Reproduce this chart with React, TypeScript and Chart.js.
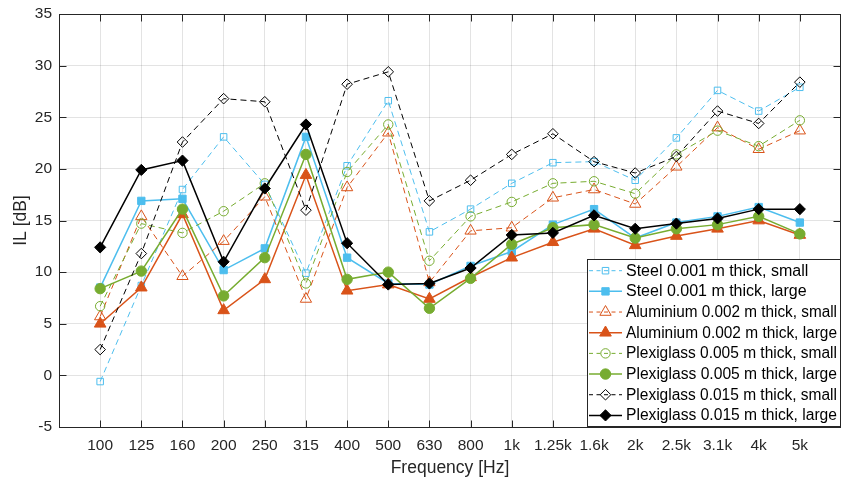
import React, { useEffect, useRef } from 'react';
import { Chart, registerables } from 'chart.js';

Chart.register(...registerables);

const categories = ['100', '125', '160', '200', '250', '315', '400', '500', '630', '800', '1k', '1.25k', '1.6k', '2k', '2.5k', '3.1k', '4k', '5k'];
const yTicks = [-5, 0, 5, 10, 15, 20, 25, 30, 35];

const steelSmall = [-0.6, 8.7, 18.0, 23.1, 18.5, 9.9, 20.3, 26.6, 13.9, 16.1, 18.6, 20.6, 20.7, 18.9, 23.0, 27.6, 25.6, 27.9];
const steelLarge = [8.5, 16.9, 17.1, 10.2, 12.3, 23.1, 11.4, 8.9, 8.8, 10.6, 12.0, 14.6, 16.1, 13.3, 14.8, 15.4, 16.3, 14.8];
const aluSmall = [5.7, 15.4, 9.6, 13.0, 17.3, 7.4, 18.2, 23.5, 9.0, 14.0, 14.3, 17.2, 18.0, 16.6, 20.2, 24.0, 21.9, 23.7];
const aluLarge = [5.0, 8.5, 15.6, 6.3, 9.3, 19.4, 8.2, 8.8, 7.4, 9.5, 11.4, 12.9, 14.2, 12.6, 13.5, 14.2, 15.0, 13.6];
const plexi5Small = [6.7, 14.7, 13.8, 15.9, 18.6, 8.9, 19.7, 24.3, 11.1, 15.4, 16.8, 18.6, 18.8, 17.6, 21.4, 23.7, 22.2, 24.7];
const plexi5Large = [8.4, 10.1, 16.1, 7.7, 11.4, 21.4, 9.3, 10.0, 6.5, 9.4, 12.7, 14.3, 14.6, 13.3, 14.2, 14.6, 15.4, 13.7];
const plexi15Small = [2.5, 11.8, 22.6, 26.8, 26.5, 16.0, 28.2, 29.4, 16.9, 18.9, 21.4, 23.4, 20.7, 19.6, 21.2, 25.6, 24.4, 28.4];
const plexi15Large = [12.4, 19.9, 20.8, 11.0, 18.1, 24.3, 12.8, 8.8, 8.9, 10.4, 13.6, 13.8, 15.5, 14.2, 14.7, 15.2, 16.1, 16.1];

const seriesLabels = [
  'Steel 0.001 m thick, small',
  'Steel 0.001 m thick, large',
  'Aluminium 0.002 m thick, small',
  'Aluminium 0.002 m thick, large',
  'Plexiglass 0.005 m thick, small',
  'Plexiglass 0.005 m thick, large',
  'Plexiglass 0.015 m thick, small',
  'Plexiglass 0.015 m thick, large',
];
const seriesValues = [steelSmall, steelLarge, aluSmall, aluLarge, plexi5Small, plexi5Large, plexi15Small, plexi15Large];

const STEEL = '#4DBEEE';
const ALU = '#D95319';
const GREEN = '#77AC30';
const BLACK = '#000000';
const AXIS = '#262626';
const FONT = "'Liberation Sans', Arial, Helvetica, sans-serif";

const styles = [
  { color: STEEL, filled: false, shape: 'rect', r: 4.6 },
  { color: STEEL, filled: true, shape: 'rect', r: 5.2 },
  { color: ALU, filled: false, shape: 'triangle', r: 6.5 },
  { color: ALU, filled: true, shape: 'triangle', r: 6.7 },
  { color: GREEN, filled: false, shape: 'circle', r: 4.7 },
  { color: GREEN, filled: true, shape: 'circle', r: 5.2 },
  { color: BLACK, filled: false, shape: 'rectRot', r: 5.3 },
  { color: BLACK, filled: true, shape: 'rectRot', r: 5.6 },
];
const DASH = [6, 4];

function drawMarker(ctx: CanvasRenderingContext2D, shape: string, x: number, y: number, r: number, filled: boolean, color: string) {
  ctx.save();
  ctx.setLineDash([]);
  ctx.lineWidth = 1;
  ctx.strokeStyle = color;
  ctx.fillStyle = color;
  ctx.beginPath();
  if (shape === 'rect') {
    const s = r / Math.SQRT2;
    ctx.rect(x - s, y - s, 2 * s, 2 * s);
  } else if (shape === 'rectRot') {
    ctx.moveTo(x, y - r);
    ctx.lineTo(x + r, y);
    ctx.lineTo(x, y + r);
    ctx.lineTo(x - r, y);
    ctx.closePath();
  } else if (shape === 'triangle') {
    let a = 0;
    ctx.moveTo(x + Math.sin(a) * r, y - Math.cos(a) * r);
    a += (2 * Math.PI) / 3;
    ctx.lineTo(x + Math.sin(a) * r, y - Math.cos(a) * r);
    a += (2 * Math.PI) / 3;
    ctx.lineTo(x + Math.sin(a) * r, y - Math.cos(a) * r);
    ctx.closePath();
  } else {
    ctx.arc(x, y, r, 0, Math.PI * 2);
  }
  if (filled) ctx.fill();
  ctx.stroke();
  ctx.restore();
}

const framePlugin = {
  id: 'matlabFrame',
  afterDatasetsDraw(chart: any) {
    const ctx: CanvasRenderingContext2D = chart.ctx;
    const { left, right, top, bottom } = chart.chartArea;
    const xs = chart.scales.x;
    const ys = chart.scales.y;
    const L = Math.round(left) + 0.5;
    const R = Math.round(right) - 0.5;
    const T = Math.round(top) + 0.5;
    const B = Math.round(bottom) + 0.5;
    const tl = 7;
    ctx.save();
    ctx.strokeStyle = AXIS;
    ctx.lineWidth = 1;
    ctx.setLineDash([]);
    ctx.beginPath();
    categories.forEach((_, i) => {
      const px = Math.round(xs.getPixelForValue(i)) + 0.5;
      ctx.moveTo(px, T);
      ctx.lineTo(px, T + tl);
      ctx.moveTo(px, B);
      ctx.lineTo(px, B - tl);
    });
    yTicks.forEach((v) => {
      const py = Math.round(ys.getPixelForValue(v)) + 0.5;
      ctx.moveTo(L, py);
      ctx.lineTo(L + tl, py);
      ctx.moveTo(R, py);
      ctx.lineTo(R - tl, py);
    });
    ctx.stroke();
    ctx.strokeRect(L, T, R - L, B - T);

    // legend
    const bx = 587.5;
    const by = 259.5;
    const bw = R - bx;
    const bh = 167;
    ctx.fillStyle = '#ffffff';
    ctx.fillRect(bx, by, bw, bh);
    ctx.strokeStyle = AXIS;
    ctx.strokeRect(bx, by, bw, bh);
    ctx.font = `16px ${FONT}`;
    ctx.textBaseline = 'middle';
    ctx.textAlign = 'left';
    seriesLabels.forEach((label, i) => {
      const st = styles[i];
      const y = 270.7 + i * 20.67;
      ctx.save();
      ctx.strokeStyle = st.color;
      ctx.lineWidth = st.filled ? 1.5 : 1;
      ctx.setLineDash(st.filled ? [] : [4, 3.5]);
      ctx.beginPath();
      ctx.moveTo(589, y);
      ctx.lineTo(622, y);
      ctx.stroke();
      ctx.restore();
      drawMarker(ctx, st.shape, 605.5, y, st.r, st.filled, st.color);
      ctx.fillStyle = '#000000';
      ctx.fillText(label, 626, y + 0.5, 211);
    });
    ctx.restore();
  },
};

export default function App() {
  const canvasRef = useRef<HTMLCanvasElement | null>(null);

  useEffect(() => {
    document.body.style.margin = '0';
    const canvas = canvasRef.current;
    if (!canvas) return;

    const datasets = seriesValues.map((vals, i) => {
      const st = styles[i];
      return {
        label: seriesLabels[i],
        data: vals.map((v, k) => ({ x: k, y: v })),
        borderColor: st.color,
        backgroundColor: st.color,
        borderWidth: st.filled ? 1.5 : 1,
        borderDash: st.filled ? [] : DASH,
        pointStyle: st.shape,
        pointRadius: st.r,
        pointBorderWidth: 1,
        pointBorderColor: st.color,
        pointBackgroundColor: st.filled ? st.color : 'rgba(0,0,0,0)',
        tension: 0,
        fill: false,
        order: -i,
      };
    });

    const chart = new Chart(canvas, {
      type: 'line',
      data: { datasets },
      options: {
        responsive: false,
        animation: false,
        devicePixelRatio: 1,
        events: [],
        layout: { autoPadding: false, padding: { top: 14, right: 0, left: 0, bottom: 0 } },
        plugins: {
          legend: { display: false },
          tooltip: { enabled: false },
        },
        scales: {
          x: {
            type: 'linear',
            min: -1,
            max: 18,
            afterFit: (scale: any) => {
              scale.height = 50;
              scale.paddingLeft = 0;
              scale.paddingRight = 0;
            },
            ticks: {
              stepSize: 1,
              autoSkip: false,
              maxRotation: 0,
              minRotation: 0,
              padding: 9,
              color: AXIS,
              font: { family: FONT, size: 15.5 },
              callback: (v: any) => {
                const s = categories[Number(v)];
                return s === undefined ? '' : s;
              },
            },
            grid: { color: 'rgba(38,38,38,0.13)', drawTicks: false, lineWidth: 1 },
            border: { display: false },
            title: {
              display: true,
              text: 'Frequency [Hz]',
              color: AXIS,
              font: { family: FONT, size: 17.5, lineHeight: 1 },
              padding: { top: -1, bottom: 0 },
            },
          },
          y: {
            type: 'linear',
            min: -5,
            max: 35,
            afterFit: (scale: any) => {
              scale.width = 59;
              scale.paddingTop = 0;
              scale.paddingBottom = 0;
            },
            ticks: {
              stepSize: 5,
              padding: 7,
              color: AXIS,
              font: { family: FONT, size: 15.5 },
            },
            grid: { color: 'rgba(38,38,38,0.13)', drawTicks: false, lineWidth: 1 },
            border: { display: false },
            title: {
              display: true,
              text: 'IL [dB]',
              color: AXIS,
              font: { family: FONT, size: 17.5, lineHeight: 1 },
              padding: { top: 12, bottom: 0 },
            },
          },
        },
      },
      plugins: [framePlugin],
    } as any);

    return () => chart.destroy();
  }, []);

  return (
    <div style={{ width: 841, height: 477 }}>
      <canvas ref={canvasRef} width={841} height={477} style={{ display: 'block' }} />
    </div>
  );
}
